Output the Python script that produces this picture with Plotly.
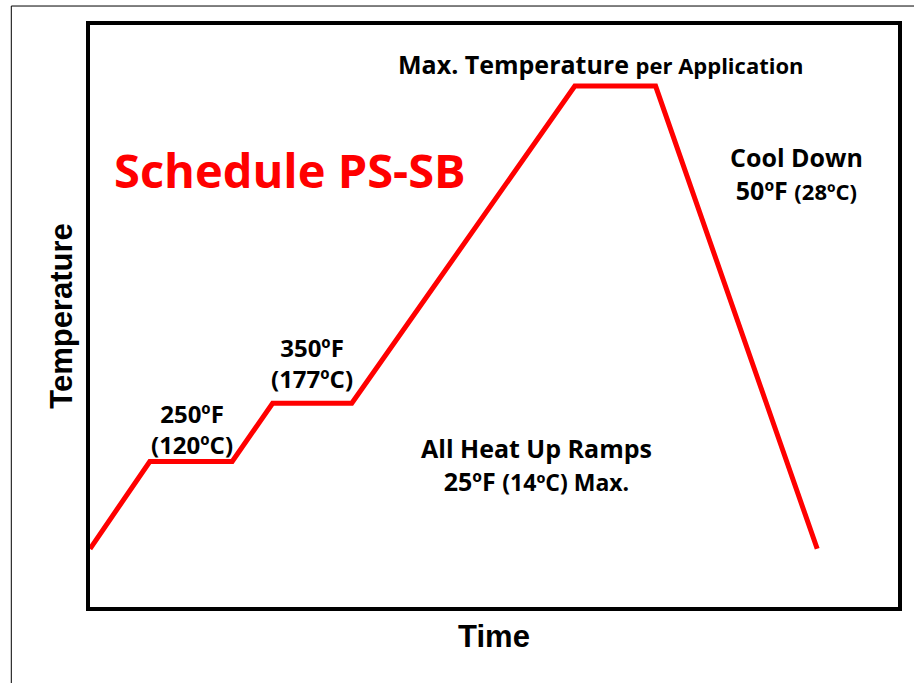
import plotly.graph_objects as go

# Data (arbitrary time / temperature units)
time_vals = [0, 7.4, 17.6, 22.6, 32.4, 60.0, 70.0, 90.0]
temp_vals = [10, 25, 25, 35, 35, 89.5, 89.5, 10]

fig = go.Figure()
fig.add_trace(go.Scatter(x=time_vals, y=temp_vals, mode="lines",
                         line=dict(color="#FF0000", width=5),
                         showlegend=False, hoverinfo="skip"))

LBL = "Open Sans"
ann = [
    dict(text="<b>Schedule PS-SB</b>", x=0.2478, y=0.751, size=47, color="#FF0000"),
    dict(text="<b>Max. Temperature <span style='font-size:22px'>per Application</span></b>",
         x=0.6326, y=0.933, size=25, color="black"),
    dict(text="<b>Cool Down<br>50ºF <span style='font-size:22px'>(28ºC)</span></b>",
         x=0.874, y=0.744, size=25, color="black"),
    dict(text="<b>250ºF<br>(120ºC)</b>", x=0.1262, y=0.3055, size=24, color="black"),
    dict(text="<b>350ºF<br>(177ºC)</b>", x=0.275, y=0.4185, size=24, color="black"),
    dict(text="<b>All Heat Up Ramps<br>25ºF <span style='font-size:23px'>(14ºC) Max.</span></b>",
         x=0.552, y=0.2448, size=25, color="black"),
]

annotations = [dict(text=a["text"], x=a["x"], y=a["y"], xref="paper", yref="paper",
                    showarrow=False, xanchor="center", yanchor="middle", align="center",
                    font=dict(family=LBL, size=a["size"], color=a["color"]))
               for a in ann]

fig.update_layout(
    width=914, height=683,
    margin=dict(l=90, r=13, t=25, b=76),
    paper_bgcolor="white", plot_bgcolor="white",
    xaxis=dict(range=[0, 100], showticklabels=False, showgrid=False, zeroline=False,
               showline=True, mirror=True, linecolor="black", linewidth=4, ticks="",
               title=dict(text="<b>Time</b>", font=dict(family="Liberation Sans", size=31, color="black"),
                          standoff=16)),
    yaxis=dict(range=[0, 100], showticklabels=False, showgrid=False, zeroline=False,
               showline=True, mirror=True, linecolor="black", linewidth=4, ticks="",
               title=dict(text="<b>Temperature</b>", font=dict(family="Liberation Sans", size=31, color="black"),
                          standoff=5)),
    annotations=annotations,
    shapes=[
        dict(type="line", xref="paper", yref="paper", x0=-0.0974, x1=1.03, y0=1.0326, y1=1.0326,
             line=dict(color="black", width=1)),
        dict(type="line", xref="paper", yref="paper", x0=-0.0974, x1=-0.0974, y0=1.0326, y1=-0.15,
             line=dict(color="black", width=1)),
    ],
)

fig.write_html("out.html", config={"displayModeBar": False},
               post_script="document.body.style.margin='0';")
